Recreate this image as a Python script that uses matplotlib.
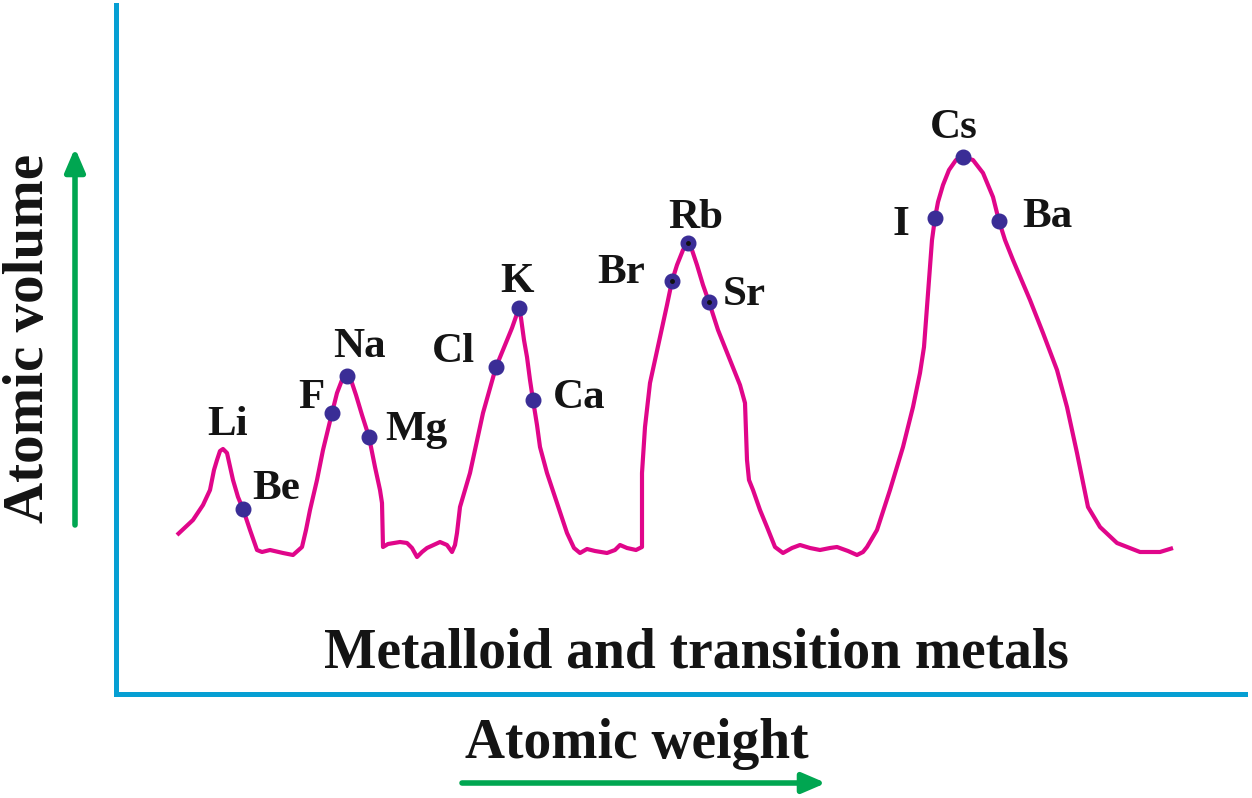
import matplotlib
matplotlib.use("Agg")
import matplotlib.pyplot as plt

# ---- data (arbitrary units: x = atomic weight, y = atomic volume) ----
curve_x = [61, 77, 87, 94, 98, 101, 104, 107, 111, 117, 122, 127, 134, 141, 146, 154,
           167, 177, 186, 190, 194, 201, 207, 216, 221, 226, 231, 235, 240, 246, 253, 259,
           264, 266, 267, 272, 284, 291, 296, 301, 306, 311, 324, 331, 336, 339, 341, 344,
           354, 367, 380, 389, 396, 403, 405, 408, 411, 414, 417, 421, 424, 431, 441, 451,
           458, 464, 471, 479, 491, 499, 504, 511, 520, 526, 526, 529, 534, 544, 551, 556,
           561, 567, 572, 576, 581, 587, 593, 602, 614, 624, 629, 630, 631, 633, 637, 644,
           651, 659, 667, 676, 684, 694, 704, 714, 721, 732, 741, 747, 751, 761, 774, 787,
           797, 804, 808, 811, 814, 816, 819, 822, 827, 833, 840, 847, 857, 867, 877, 883,
           889, 897, 914, 927, 941, 951, 961, 972, 984, 1001, 1024, 1044, 1057]
curve_y = [159, 174, 189, 204, 224, 234, 243, 245, 241, 214, 197, 185, 164, 144, 142, 144,
           141, 139, 147, 164, 184, 214, 244, 281, 301, 314, 318, 314, 299, 279, 257, 227,
           204, 191, 147, 150, 152, 151, 146, 137, 142, 146, 152, 149, 142, 149, 161, 187,
           221, 281, 327, 349, 366, 386, 376, 354, 337, 314, 294, 269, 247, 221, 191, 161,
           146, 141, 145, 143, 141, 144, 149, 146, 144, 147, 221, 267, 311, 357, 389, 413,
           429, 444, 451, 444, 429, 409, 392, 364, 334, 309, 291, 261, 234, 214, 204, 184,
           167, 147, 141, 146, 149, 146, 144, 146, 147, 143, 139, 142, 147, 164, 204, 247,
           287, 321, 347, 387, 427, 454, 476, 492, 509, 524, 534, 537, 534, 521, 497, 473,
           454, 434, 394, 361, 324, 287, 241, 187, 167, 151, 142, 142, 146]

elements   = ["Be", "F", "Na", "Mg", "Cl", "K", "Ca", "Br", "Rb", "Sr", "I", "Cs", "Ba"]
element_x  = [127, 216, 231, 253, 380, 403, 417, 556, 572, 593, 819, 847, 883]
element_y  = [185, 281, 318, 257, 327, 386, 294, 413, 451, 392, 476, 537, 473]

labels     = ["Li", "Be", "F", "Na", "Mg", "Cl", "K", "Ca", "Br", "Rb", "Sr", "I", "Cs", "Ba"]
label_x    = [91, 136, 182, 217, 269, 316, 384, 437, 481, 552, 607, 776, 814, 906]
label_y    = [259, 195, 286, 337, 254, 332, 402, 286, 411, 466, 389, 459, 556, 467]

region_text = "Metalloid and transition metals"
x_title = "Atomic weight"
y_title = "Atomic volume"

# ---- styling ----
W, H = 1252, 798
AXIS_C = "#069fd3"
CURVE_C = "#e0068a"
DOT_C = "#3a2d96"
GREEN = "#00a651"
TXT = "#141414"
FONT = ["Liberation Serif", "DejaVu Serif"]

fig = plt.figure(figsize=(W / 100, H / 100), dpi=100)
ax = fig.add_axes([116 / W, (H - 694) / H, (1245 - 116) / W, (694 - 5) / H])
ax.set_xlim(0, 1129)
ax.set_ylim(0, 689)
ax.set_xticks([])
ax.set_yticks([])
for side in ("top", "right"):
    ax.spines[side].set_visible(False)
for side in ("left", "bottom"):
    ax.spines[side].set_color(AXIS_C)
    ax.spines[side].set_linewidth(3.6)
    ax.spines[side].set_capstyle("projecting")

ax.plot(curve_x, curve_y, color=CURVE_C, lw=3.0, solid_joinstyle="round",
        solid_capstyle="butt", zorder=2)
ax.plot(element_x, element_y, "o", color=DOT_C, ms=10.5, mec=DOT_C, zorder=3)
for n, x, y in zip(elements, element_x, element_y):
    if n in ("Br", "Rb", "Sr"):
        ax.plot([x], [y], "o", color="#111111", ms=2.5, zorder=4)

for t, x, y in zip(labels, label_x, label_y):
    ax.text(x, y, t, fontsize=31, fontweight="bold", family=FONT, color=TXT,
            ha="left", va="baseline", zorder=5)

ax.text(580, 27, region_text, fontsize=40, fontweight="bold", family=FONT,
        color=TXT, ha="center", va="baseline")

fig.text(637 / W, 1 - 758 / H, x_title, fontsize=40, fontweight="bold", family=FONT,
         color=TXT, ha="center", va="baseline")
fig.text(43 / W, 1 - 338 / H, y_title, fontsize=41, fontweight="bold", family=FONT,
         color=TXT, ha="center", va="baseline", rotation=90, rotation_mode="anchor")

# green arrows (figure pixel coordinates)
def px_arrow(x0, y0, x1, y1):
    ax.annotate("", xy=(x1 / W, 1 - y1 / H), xytext=(x0 / W, 1 - y0 / H),
                xycoords="figure fraction", textcoords="figure fraction",
                arrowprops=dict(arrowstyle="-|>,head_length=1.4,head_width=0.6",
                                color=GREEN, lw=4, shrinkA=0, shrinkB=0))

px_arrow(462, 783, 826, 783)
px_arrow(75, 525, 75, 148)

fig.savefig("out.png", dpi=100)
